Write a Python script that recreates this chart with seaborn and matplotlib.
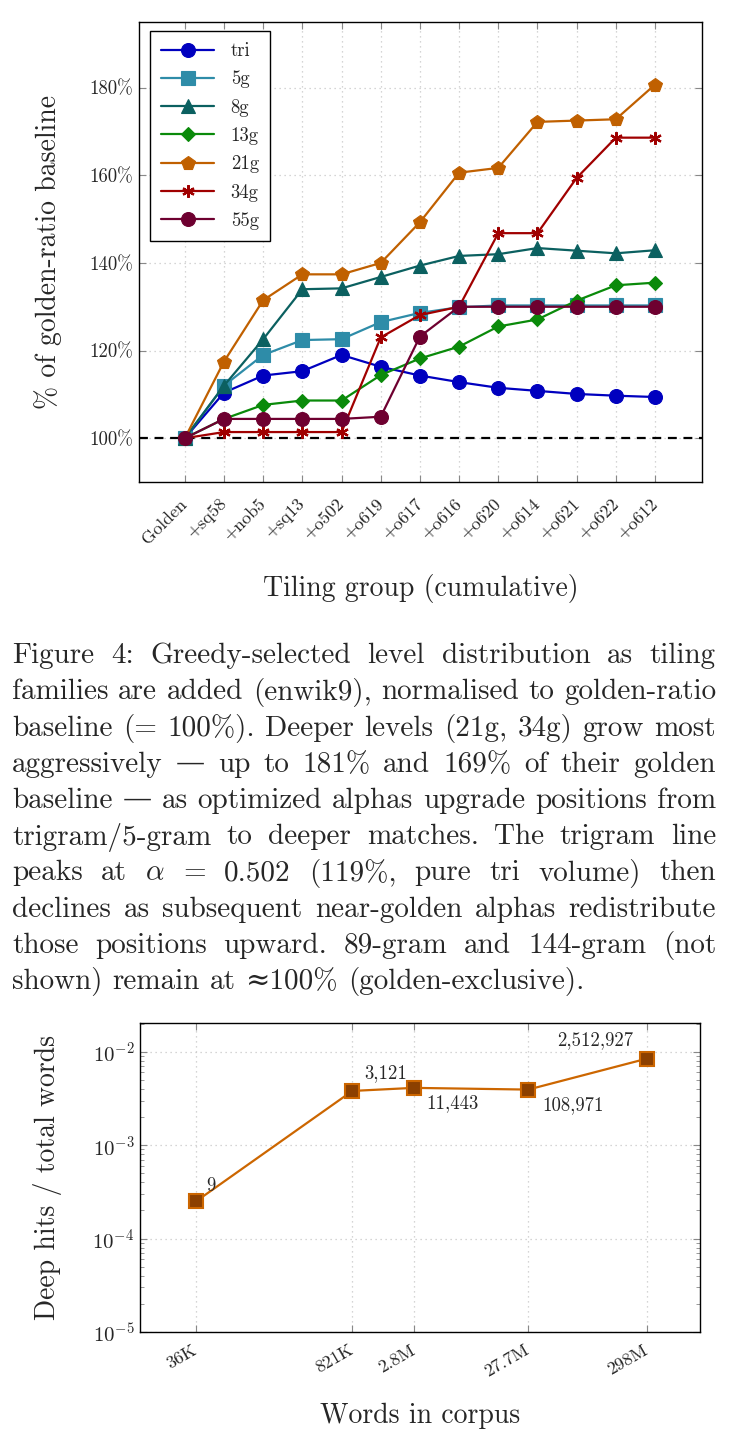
import numpy as np
import pandas as pd
import matplotlib
matplotlib.use("Agg")
import matplotlib.pyplot as plt
import seaborn as sns

# --- data: top chart (percent of golden-ratio baseline) ---
groups = ["Golden", "+sq58", "+nob5", "+sq13", "+o502", "+o619", "+o617",
          "+o616", "+o620", "+o614", "+o621", "+o622", "+o612"]
tri = [100, 110.4, 114.3, 115.3, 119.0, 116.3, 114.3, 112.8, 111.5, 110.8, 110.1, 109.7, 109.4]
g5 = [100, 112.0, 119.0, 122.4, 122.6, 126.5, 128.6, 129.9, 130.3, 130.3, 130.3, 130.3, 130.3]
g8 = [100, 112.0, 122.6, 134.0, 134.2, 136.8, 139.4, 141.6, 142.0, 143.4, 142.8, 142.2, 142.9]
g13 = [100, 104.4, 107.6, 108.6, 108.6, 114.4, 118.2, 120.9, 125.5, 127.1, 131.4, 134.9, 135.5]
g21 = [100, 117.5, 131.5, 137.4, 137.4, 140.0, 149.3, 160.6, 161.7, 172.2, 172.5, 172.8, 180.7]
g34 = [100, 101.4, 101.4, 101.4, 101.4, 123.0, 128.1, 130.0, 146.8, 146.8, 159.4, 168.6, 168.6]
g55 = [100, 104.4, 104.4, 104.4, 104.4, 104.9, 123.2, 130.0, 130.0, 130.0, 130.0, 130.0, 130.0]
series_names = ["tri", "5g", "8g", "13g", "21g", "34g", "55g"]
series_vals = [tri, g5, g8, g13, g21, g34, g55]
series_colors = ["#0000BF", "#2E8CA8", "#0B6060", "#0A8A0A", "#C06000", "#A00000", "#6E0030"]
series_markers = ["o", "s", "^", "D", "p", (6, 2, 0), "o"]
series_msize = [10, 9.5, 9.5, 7.5, 10, 9, 10]

# --- data: bottom chart ---
corpus_words = [36e3, 821e3, 2.8e6, 27.7e6, 298e6]
corpus_labels = ["36K", "821K", "2.8M", "27.7M", "298M"]
deep_ratio = [2.5e-4, 3.8e-3, 4.1e-3, 3.93e-3, 8.43e-3]
deep_hits = [9, 3121, 11443, 108971, 2512927]

caption_lines = [
    "Figure 4: Greedy-selected level distribution as tiling",
    "families are added (enwik9), normalised to golden-ratio",
    "baseline (= 100%). Deeper levels (21g, 34g) grow most",
    "aggressively \u2014 up to 181% and 169% of their golden",
    "baseline \u2014 as optimized alphas upgrade positions from",
    "trigram/5-gram to deeper matches. The trigram line",
    "peaks at $\\alpha$ = 0.502 (119%, pure tri volume) then",
    "declines as subsequent near-golden alphas redistribute",
    "those positions upward. 89-gram and 144-gram (not",
    "shown) remain at \u2248100% (golden-exclusive).",
]

sns.set_style("ticks")
plt.rcParams["font.family"] = ["cmr10", "DejaVu Serif"]
plt.rcParams["mathtext.fontset"] = "cm"
plt.rcParams["axes.formatter.use_mathtext"] = True
plt.rcParams["axes.unicode_minus"] = False

W, H = 729, 1446
fig = plt.figure(figsize=(W / 100, H / 100), dpi=100)


def px_axes(left, top, right, bottom):
    return fig.add_axes([left / W, 1 - bottom / H, (right - left) / W, (bottom - top) / H])


def style_axes(ax):
    for s in ax.spines.values():
        s.set_color("black")
        s.set_linewidth(1.0)
    ax.grid(True, which="major", color="#c8c8c8", linestyle=(0, (1, 3)), linewidth=0.9)
    ax.tick_params(which="both", direction="in", top=True, right=True, color="#888888")
    ax.tick_params(which="major", length=5)
    ax.tick_params(which="minor", length=3)
    ax.tick_params(axis="y", pad=4)


# ---------------- top chart ----------------
ax1 = px_axes(139, 22, 702, 482)
xpos = np.arange(len(groups))
ax1.axhline(100, color="black", linestyle=(0, (4, 3)), linewidth=1.6, zorder=1)
for name, vals, col, mk, ms in zip(series_names, series_vals, series_colors,
                                   series_markers, series_msize):
    sns.lineplot(x=xpos, y=vals, ax=ax1, color=col, marker=mk, markersize=ms,
                 markeredgecolor=col, markeredgewidth=1.6 if mk == (6, 2, 0) else 0.8,
                 linewidth=1.6, label=name, zorder=3)
ax1.set_xlim(-1.17, 13.2)
ax1.set_ylim(90, 195)
ax1.set_xticks(xpos)
ax1.set_xticklabels(groups, rotation=45, ha="right", rotation_mode="anchor",
                    va="center", fontsize=13)
ax1.set_yticks([100, 120, 140, 160, 180])
ax1.set_yticklabels([f"{v}%" for v in [100, 120, 140, 160, 180]], fontsize=13.5)
style_axes(ax1)
ax1.tick_params(axis="x", pad=14)
ax1.set_xlabel("Tiling group (cumulative)", fontsize=20)
ax1.set_ylabel("% of golden-ratio baseline", fontsize=20)
ax1.xaxis.set_label_coords(0.5, -0.2)
ax1.yaxis.set_label_coords(-0.137, 0.5)
leg = ax1.legend(loc="upper left", bbox_to_anchor=(11 / 563, 1 - 9 / 460),
                 borderaxespad=0, fancybox=False, edgecolor="black", framealpha=1,
                 fontsize=13.5, handlelength=2.8, handletextpad=0.9,
                 labelspacing=0.55, borderpad=0.6)
leg.get_frame().set_linewidth(1.0)

# ---------------- caption (justified, one text per word) ----------------
renderer = fig.canvas.get_renderer()
cap_size = 21
cap_left, cap_right = 12, 716
cap_y0, cap_dy = 656, 36.2
for i, line in enumerate(caption_lines):
    ypx = cap_y0 + i * cap_dy
    words = line.split(" ")
    objs = [fig.text(0, 1 - ypx / H, w, fontsize=cap_size, va="center", ha="left")
            for w in words]
    widths = [o.get_window_extent(renderer).width for o in objs]
    if i < len(caption_lines) - 1:
        gap = (cap_right - cap_left - sum(widths)) / (len(words) - 1)
    else:
        gap = 0.34 * cap_size * 100 / 72
    x = cap_left
    for o, w in zip(objs, widths):
        o.set_x(x / W)
        x += w + gap

# ---------------- bottom chart ----------------
ax2 = px_axes(140, 1023, 700, 1332)
sns.lineplot(x=corpus_words, y=deep_ratio, ax=ax2, color="#CC6600", linewidth=1.6,
             marker="s", markersize=10, markerfacecolor="#8C4000",
             markeredgecolor="#CC6600", markeredgewidth=1.5, zorder=3)
ax2.set_xscale("log")
ax2.set_yscale("log")
ax2.set_xlim(10 ** 4.07, 10 ** 8.935)
ax2.set_ylim(1e-5, 10 ** -1.693)
ax2.set_xticks(corpus_words)
ax2.set_xticklabels(corpus_labels, rotation=30, ha="right", rotation_mode="anchor",
                    va="center", fontsize=13)
ax2.xaxis.set_minor_locator(matplotlib.ticker.NullLocator())
ax2.set_yticks([1e-5, 1e-4, 1e-3, 1e-2])
ax2.yaxis.set_minor_locator(matplotlib.ticker.LogLocator(base=10, subs=np.arange(2, 10)))
ax2.yaxis.set_minor_formatter(matplotlib.ticker.NullFormatter())
ax2.tick_params(axis="y", labelsize=15)
style_axes(ax2)
ax2.tick_params(axis="x", pad=12)
ax2.set_xlabel("Words in corpus", fontsize=20)
ax2.set_ylabel("Deep hits / total words", fontsize=20)
ax2.xaxis.set_label_coords(0.5, -0.23)
ax2.yaxis.set_label_coords(-0.139, 0.5)

label_offsets = [(11, 11), (24, 13), (28, -11), (32, -11), (-37, 13)]
for wx, r, h, off in zip(corpus_words, deep_ratio, deep_hits, label_offsets):
    ax2.annotate(f"{h:,}", (wx, r), xytext=off, textcoords="offset points",
                 ha="center", va="center", fontsize=13.5)

fig.savefig("out.png", dpi=100)
